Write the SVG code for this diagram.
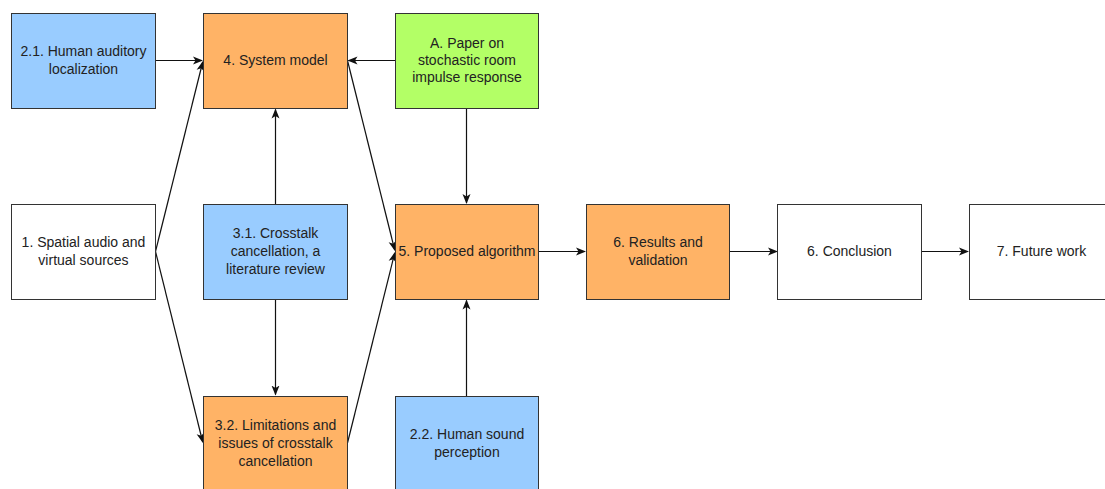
<svg xmlns="http://www.w3.org/2000/svg" width="1105" height="489" viewBox="0 0 1105 489">
<style>
.b{stroke:#333;stroke-width:1}
.w{fill:#fff}.bl{fill:#99CCFF}.o{fill:#FFB366}.g{fill:#B3FF66}
text{font-family:"Liberation Sans",Arial,sans-serif;font-size:14px;fill:#222;text-anchor:middle}
.c{stroke:#111;stroke-width:1.2;fill:none;marker-end:url(#a)}
</style>
<defs>
<marker id="a" viewBox="0 0 10 10" refX="9" refY="5" markerWidth="10" markerHeight="10" markerUnits="userSpaceOnUse" orient="auto">
<path d="M0,1 L10,5 L0,9 L2.5,5 Z" fill="#111"/>
</marker>
</defs>
<rect width="1105" height="489" fill="#fff"/>
<g id="connectors">
<line class="c" x1="155.5" y1="60.5" x2="202" y2="60.5"/>
<line class="c" x1="395" y1="60.5" x2="348.5" y2="60.5"/>
<line class="c" x1="466.5" y1="108" x2="466.5" y2="203"/>
<line class="c" x1="155.5" y1="251.5" x2="202.7" y2="62"/>
<line class="c" x1="155.5" y1="251.5" x2="202.7" y2="442"/>
<line class="c" x1="347.5" y1="60.5" x2="394.7" y2="250"/>
<line class="c" x1="347.5" y1="443" x2="394.7" y2="253"/>
<line class="c" x1="275.5" y1="204" x2="275.5" y2="109.5"/>
<line class="c" x1="275.5" y1="299" x2="275.5" y2="394.5"/>
<line class="c" x1="466.5" y1="396" x2="466.5" y2="300.5"/>
<line class="c" x1="538.5" y1="251.5" x2="585" y2="251.5"/>
<line class="c" x1="730" y1="251.5" x2="777" y2="251.5"/>
<line class="c" x1="921.5" y1="251.5" x2="968" y2="251.5"/>
</g>
<g id="n21"><rect class="b bl" x="11.5" y="13.5" width="144" height="95"/><text x="83.5" y="56">2.1. Human auditory</text><text x="83.5" y="74">localization</text></g>
<g id="n4"><rect class="b o" x="203.5" y="13.5" width="144" height="95"/><text x="275.5" y="65">4. System model</text></g>
<g id="nA"><rect class="b g" x="395.5" y="13.5" width="143" height="95"/><text x="467" y="48">A. Paper on</text><text x="467" y="65">stochastic room</text><text x="467" y="82">impulse response</text></g>
<g id="n1"><rect class="b w" x="11.5" y="204.5" width="144" height="95"/><text x="83.5" y="247">1. Spatial audio and</text><text x="83.5" y="265">virtual sources</text></g>
<g id="n31"><rect class="b bl" x="203.5" y="204.5" width="144" height="95"/><text x="275.5" y="238">3.1. Crosstalk</text><text x="275.5" y="256">cancellation, a</text><text x="275.5" y="274">literature review</text></g>
<g id="n5"><rect class="b o" x="395.5" y="204.5" width="143" height="95"/><text x="467" y="256">5. Proposed algorithm</text></g>
<g id="n6"><rect class="b o" x="586.5" y="204.5" width="143" height="95"/><text x="658" y="247">6. Results and</text><text x="658" y="265">validation</text></g>
<g id="nC"><rect class="b w" x="777.5" y="204.5" width="144" height="95"/><text x="849.5" y="256">6. Conclusion</text></g>
<g id="nF"><rect class="b w" x="969.5" y="204.5" width="144" height="95"/><text x="1041.5" y="256">7. Future work</text></g>
<g id="n32"><rect class="b o" x="203.5" y="396.5" width="144" height="95"/><text x="275.5" y="430">3.2. Limitations and</text><text x="275.5" y="448">issues of crosstalk</text><text x="275.5" y="466">cancellation</text></g>
<g id="n22"><rect class="b bl" x="395.5" y="396.5" width="143" height="95"/><text x="467" y="439">2.2. Human sound</text><text x="467" y="457">perception</text></g>
</svg>
